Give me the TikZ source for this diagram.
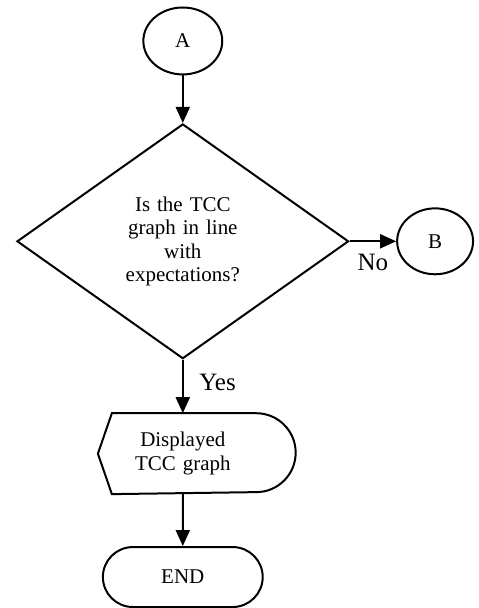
\documentclass[tikz,border=0pt]{standalone}
\usepackage{fontspec}
\setmainfont{Liberation Serif}
\usepackage{tikz}
\usetikzlibrary{matrix,arrows,shapes.geometric,shapes.misc}
\usetikzlibrary{arrows.meta}
\usetikzlibrary{calc}

\begin{document}
\begin{tikzpicture}[line width=1pt, >={Triangle[length=8pt,width=7pt]},
	txt/.style={font=\fontsize{10.5}{11.75}\selectfont},
	lbl/.style={font=\fontsize{12.5}{14}\selectfont},
	connector/.style={ellipse, draw, inner sep=0pt},
	decision/.style={diamond, draw, inner sep=0pt, minimum width=166pt, minimum height=117.5pt, text width=62pt, align=center},
	display/.style={inner sep=0pt, minimum height=39.5pt, text width=62pt, align=center},
	terminal/.style={rounded rectangle, draw, inner sep=0pt, minimum width=80pt, minimum height=30pt}]
	\matrix (m) [matrix of nodes, inner sep=0pt, row sep=0pt, column sep=23.5pt, nodes={txt, anchor=center}]
	{
		|[connector, minimum width=39.5pt, minimum height=33.5pt]| A & \\[24pt]
		|[decision]| {Is the TCC\\graph in line\\with\\expectations?} & |[connector, minimum width=38pt, minimum height=33pt]| B \\[27.5pt]
		|[display]| {Displayed\\TCC graph} & \\[26.5pt]
		|[terminal]| END & \\
	};
	\useasboundingbox ([shift={(-91.5pt,20.5pt)}]m-1-1.center) rectangle +(239.5pt,-304pt);
	% display symbol
	\draw ([xshift=-35.5pt]m-3-1.north) -- ([xshift=36.75pt]m-3-1.north)
		arc[start angle=90, end angle=-90, radius=19.75pt]
		-- ([xshift=-35.5pt]m-3-1.south) -- ([xshift=-42.5pt]m-3-1.center) -- cycle;
	\path[->]
	(m-1-1) edge (m-2-1)
	(m-2-1) edge node [lbl, below, yshift=-2.5pt] {No} (m-2-2)
	(m-2-1) edge node [lbl, right, xshift=4.5pt, pos=0.42] {Yes} (m-3-1)
	(m-3-1) edge (m-4-1)
	;
\end{tikzpicture}
\end{document}
